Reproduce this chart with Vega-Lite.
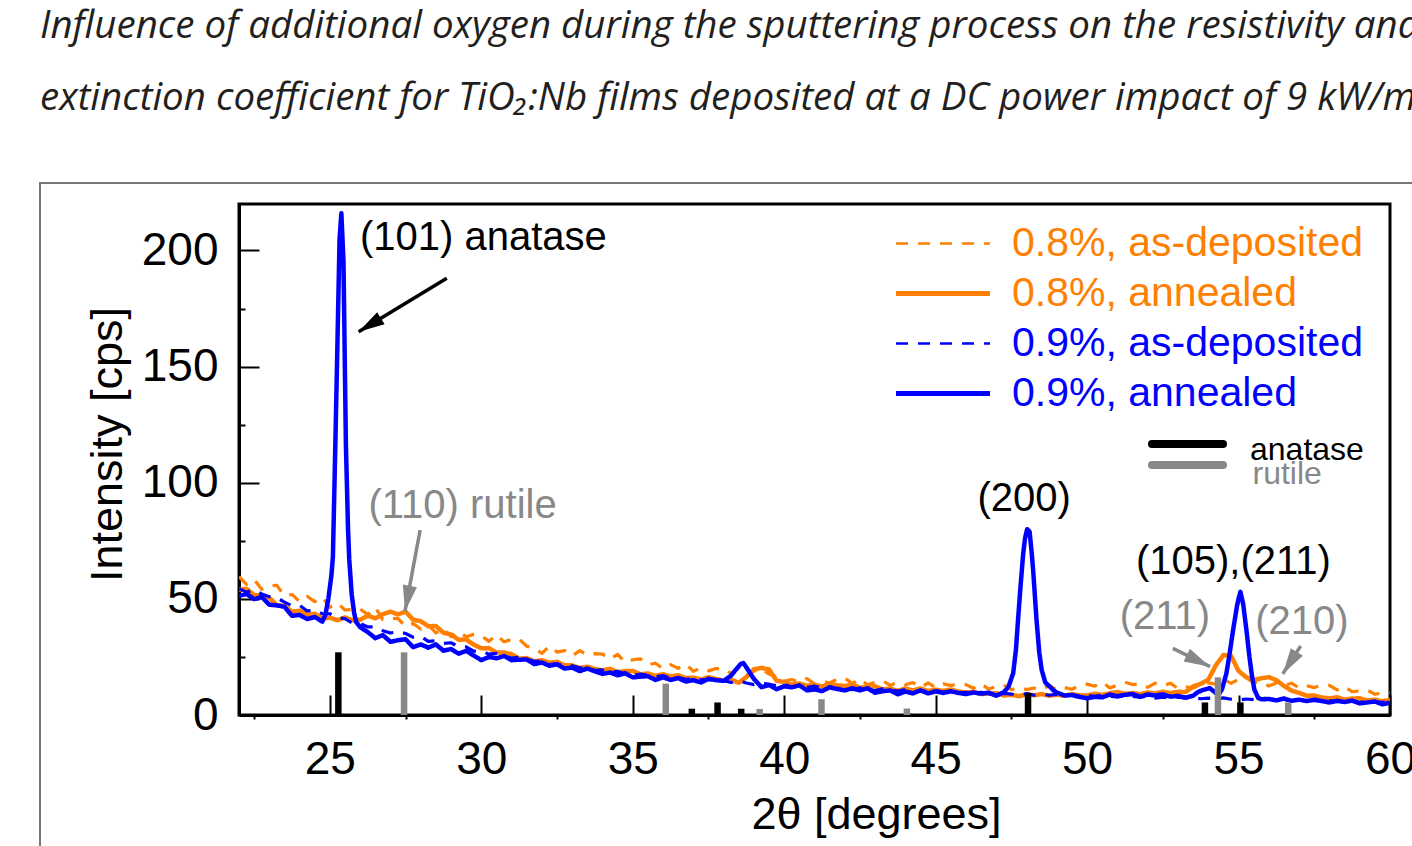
{
  "$schema": "https://vega.github.io/schema/vega-lite/v6.json",
  "width": 1151,
  "height": 511,
  "autosize": {"type": "none"},
  "padding": {"left": 239, "top": 204, "right": 22, "bottom": 131},
  "background": "white",
  "title": {
    "text": [
      "Influence of additional oxygen during the sputtering process on the resistivity and",
      "extinction coefficient for TiO₂:Nb films deposited at a DC power impact of 9 kW/m²"
    ],
    "anchor": "start",
    "frame": "group",
    "dx": -199,
    "offset": 64,
    "font": "Open Sans",
    "fontSize": 38.5,
    "fontStyle": "italic",
    "fontWeight": "normal",
    "color": "#231f20",
    "lineHeight": 72
  },
  "config": {
    "font": "Liberation Sans",
    "view": {"stroke": "#000000", "strokeWidth": 3},
    "axis": {
      "grid": false,
      "domainColor": "#000000",
      "domainWidth": 3,
      "tickColor": "#000000",
      "tickWidth": 2,
      "labelColor": "#000000",
      "titleColor": "#000000",
      "labelFont": "Liberation Sans",
      "titleFont": "Liberation Sans",
      "labelFontSize": 46,
      "titleFontSize": 45,
      "titleFontWeight": "normal",
      "labelFlush": false,
      "labelOverlap": false,
      "labelBound": false
    }
  },
  "resolve": {"scale": {"stroke": "independent"}},
  "datasets": {
    "arrows": [
      {"name": "a101", "phase": "anatase", "t": 28.86, "cps": 188.0, "t2": 25.95, "cps2": 165.0},
      {"name": "r110", "phase": "rutile", "t": 27.98, "cps": 79.6, "t2": 27.48, "cps2": 44.6},
      {"name": "r211", "phase": "rutile", "t": 52.83, "cps": 28.7, "t2": 54.06, "cps2": 20.8},
      {"name": "r210", "phase": "rutile", "t": 57.05, "cps": 29.7, "t2": 56.46, "cps2": 17.7}
    ],
    "refs": [
      {"phase": "anatase", "t": 25.28, "cps": 27},
      {"phase": "anatase", "t": 36.95, "cps": 2.7},
      {"phase": "anatase", "t": 37.8, "cps": 5.4},
      {"phase": "anatase", "t": 38.58, "cps": 2.7},
      {"phase": "anatase", "t": 48.05, "cps": 9.5},
      {"phase": "anatase", "t": 53.89, "cps": 5.4},
      {"phase": "anatase", "t": 55.06, "cps": 5.4},
      {"phase": "rutile", "t": 27.45, "cps": 27},
      {"phase": "rutile", "t": 36.09, "cps": 13.5},
      {"phase": "rutile", "t": 39.19, "cps": 2.6},
      {"phase": "rutile", "t": 41.23, "cps": 6.8},
      {"phase": "rutile", "t": 44.05, "cps": 2.8},
      {"phase": "rutile", "t": 54.32, "cps": 16.2},
      {"phase": "rutile", "t": 56.64, "cps": 5.4}
    ]
  },
  "layer": [
    {
      "data": {"values": [{"part": "figure border"}]},
      "mark": {"type": "rect", "fill": "transparent", "stroke": "#777777", "strokeWidth": 2, "clip": false},
      "encoding": {
        "x": {"datum": 15.43, "type": "quantitative"},
        "x2": {"datum": 63},
        "y": {"datum": 229.0, "type": "quantitative"},
        "y2": {"datum": -70}
      }
    },
    {
      "data": {
        "values": [
          {"t": 22, "od": 59.6, "oa": 54.0, "bd": 54.4, "ba": 51.3},
          {"t": 22.25, "od": 56.2, "oa": 54.3, "bd": 52.9, "ba": 52.1},
          {"t": 22.5, "od": 58.3, "oa": 51.6, "bd": 53.8, "ba": 49.9},
          {"t": 22.75, "od": 54.1, "oa": 51.4, "bd": 52.1, "ba": 50.8},
          {"t": 23, "od": 55.7, "oa": 50.5, "bd": 50.9, "ba": 47.5},
          {"t": 23.25, "od": 55.8, "oa": 47.3, "bd": 50.5, "ba": 47.2},
          {"t": 23.5, "od": 51.3, "oa": 47.0, "bd": 48.6, "ba": 46.6},
          {"t": 23.75, "od": 51.9, "oa": 44.5, "bd": 47.0, "ba": 42.7},
          {"t": 24, "od": 48.8, "oa": 44.9, "bd": 47.2, "ba": 43.1},
          {"t": 24.25, "od": 51.1, "oa": 43.2, "bd": 44.8, "ba": 41.3},
          {"t": 24.5, "od": 48.8, "oa": 43.6, "bd": 45.1, "ba": 42.2},
          {"t": 24.75, "od": 50.8, "oa": 41.6, "bd": 43.6, "ba": 40.2},
          {"t": 25, "od": 46.4, "oa": 41.9, "bd": 43.6, "ba": 55},
          {"t": 25.25, "od": 48.2, "oa": 40.8, "bd": 41.9, "ba": 160},
          {"t": 25.5, "od": 45.2, "oa": 42.0, "bd": 41.5, "ba": 145},
          {"t": 25.75, "od": 45.4, "oa": 40.8, "bd": 39.5, "ba": 49},
          {"t": 26, "od": 45.6, "oa": 41.0, "bd": 39.4, "ba": 37.8},
          {"t": 26.25, "od": 43.2, "oa": 42.8, "bd": 37.9, "ba": 35.7},
          {"t": 26.5, "od": 46.3, "oa": 41.6, "bd": 38.0, "ba": 33.1},
          {"t": 26.75, "od": 41.1, "oa": 43.4, "bd": 36.3, "ba": 34.4},
          {"t": 27, "od": 41.7, "oa": 44.5, "bd": 35.3, "ba": 31.5},
          {"t": 27.25, "od": 41.5, "oa": 43.3, "bd": 35.9, "ba": 32.2},
          {"t": 27.5, "od": 38.1, "oa": 44.5, "bd": 35.1, "ba": 32.6},
          {"t": 27.75, "od": 39.4, "oa": 41.0, "bd": 33.5, "ba": 29.2},
          {"t": 28, "od": 37.0, "oa": 40.4, "bd": 33.9, "ba": 30.4},
          {"t": 28.25, "od": 38.8, "oa": 38.2, "bd": 31.7, "ba": 29.0},
          {"t": 28.5, "od": 35.3, "oa": 38.3, "bd": 32.0, "ba": 30.4},
          {"t": 28.75, "od": 37.3, "oa": 35.4, "bd": 30.8, "ba": 27.7},
          {"t": 29, "od": 33.7, "oa": 34.7, "bd": 31.1, "ba": 28.4},
          {"t": 29.25, "od": 35.9, "oa": 32.4, "bd": 29.4, "ba": 26.4},
          {"t": 29.5, "od": 33.7, "oa": 32.5, "bd": 29.3, "ba": 27.6},
          {"t": 29.75, "od": 34.7, "oa": 30.3, "bd": 27.5, "ba": 25.6},
          {"t": 30, "od": 34.2, "oa": 28.7, "bd": 27.6, "ba": 23.6},
          {"t": 30.25, "od": 31.7, "oa": 28.8, "bd": 26.2, "ba": 25.0},
          {"t": 30.5, "od": 34.6, "oa": 26.9, "bd": 26.5, "ba": 24.4},
          {"t": 30.75, "od": 31.5, "oa": 26.9, "bd": 25.4, "ba": 25.4},
          {"t": 31, "od": 32.5, "oa": 26.2, "bd": 24.5, "ba": 23.6},
          {"t": 31.25, "od": 32.7, "oa": 24.3, "bd": 24.9, "ba": 23.8},
          {"t": 31.5, "od": 29.6, "oa": 24.5, "bd": 24.1, "ba": 23.9},
          {"t": 31.75, "od": 28.8, "oa": 23.1, "bd": 23.1, "ba": 21.9},
          {"t": 32, "od": 26.5, "oa": 23.6, "bd": 23.3, "ba": 22.6},
          {"t": 32.25, "od": 29.7, "oa": 22.5, "bd": 21.8, "ba": 21.2},
          {"t": 32.5, "od": 27.1, "oa": 22.9, "bd": 22.0, "ba": 21.8},
          {"t": 32.75, "od": 27.7, "oa": 21.4, "bd": 21.1, "ba": 20.0},
          {"t": 33, "od": 25.4, "oa": 21.4, "bd": 21.2, "ba": 20.4},
          {"t": 33.25, "od": 27.7, "oa": 20.2, "bd": 20.3, "ba": 18.9},
          {"t": 33.5, "od": 25.8, "oa": 20.8, "bd": 20.3, "ba": 20.0},
          {"t": 33.75, "od": 26.4, "oa": 19.8, "bd": 19.2, "ba": 18.8},
          {"t": 34, "od": 26.2, "oa": 19.2, "bd": 19.4, "ba": 17.7},
          {"t": 34.25, "od": 24.0, "oa": 19.9, "bd": 18.4, "ba": 18.3},
          {"t": 34.5, "od": 26.1, "oa": 18.4, "bd": 18.8, "ba": 17.1},
          {"t": 34.75, "od": 22.7, "oa": 18.9, "bd": 17.8, "ba": 18.0},
          {"t": 35, "od": 23.8, "oa": 19.0, "bd": 17.0, "ba": 16.2},
          {"t": 35.25, "od": 24.2, "oa": 17.5, "bd": 17.6, "ba": 16.5},
          {"t": 35.5, "od": 21.6, "oa": 17.9, "bd": 17.1, "ba": 16.7},
          {"t": 35.75, "od": 22.3, "oa": 16.8, "bd": 16.4, "ba": 15.1},
          {"t": 36, "od": 19.9, "oa": 17.6, "bd": 17.0, "ba": 16.2},
          {"t": 36.25, "od": 21.7, "oa": 16.6, "bd": 15.7, "ba": 15.1},
          {"t": 36.5, "od": 20.1, "oa": 17.1, "bd": 16.1, "ba": 15.9},
          {"t": 36.75, "od": 21.9, "oa": 15.9, "bd": 15.4, "ba": 14.4},
          {"t": 37, "od": 18.8, "oa": 16.1, "bd": 15.8, "ba": 15.0},
          {"t": 37.25, "od": 20.3, "oa": 15.3, "bd": 15.1, "ba": 14.0},
          {"t": 37.5, "od": 19.0, "oa": 16.3, "bd": 15.3, "ba": 15.6},
          {"t": 37.75, "od": 20.0, "oa": 15.5, "bd": 14.4, "ba": 15.0},
          {"t": 38, "od": 19.9, "oa": 14.8, "bd": 14.8, "ba": 14.7},
          {"t": 38.25, "od": 17.9, "oa": 15.2, "bd": 14.0, "ba": 17.0},
          {"t": 38.5, "od": 20.1, "oa": 13.9, "bd": 14.7, "ba": 21.0},
          {"t": 38.75, "od": 17.1, "oa": 16.3, "bd": 13.8, "ba": 20.5},
          {"t": 39, "od": 18.8, "oa": 19.7, "bd": 13.1, "ba": 15.5},
          {"t": 39.25, "od": 20.0, "oa": 20.3, "bd": 13.8, "ba": 12.0},
          {"t": 39.5, "od": 17.6, "oa": 19.6, "bd": 13.2, "ba": 12.9},
          {"t": 39.75, "od": 16.3, "oa": 14.8, "bd": 12.6, "ba": 11.1},
          {"t": 40, "od": 14.6, "oa": 14.2, "bd": 13.2, "ba": 12.4},
          {"t": 40.25, "od": 15.3, "oa": 13.1, "bd": 12.0, "ba": 11.9},
          {"t": 40.5, "od": 14.2, "oa": 13.6, "bd": 12.5, "ba": 12.8},
          {"t": 40.75, "od": 15.7, "oa": 12.6, "bd": 11.9, "ba": 10.6},
          {"t": 41, "od": 13.4, "oa": 13.0, "bd": 12.4, "ba": 11.0},
          {"t": 41.25, "od": 14.5, "oa": 12.3, "bd": 11.8, "ba": 10.3},
          {"t": 41.5, "od": 13.8, "oa": 13.4, "bd": 12.1, "ba": 11.9},
          {"t": 41.75, "od": 15.4, "oa": 12.8, "bd": 11.3, "ba": 11.2},
          {"t": 42, "od": 15.8, "oa": 12.5, "bd": 11.8, "ba": 10.6},
          {"t": 42.25, "od": 13.6, "oa": 13.2, "bd": 10.9, "ba": 11.5},
          {"t": 42.5, "od": 15.6, "oa": 11.7, "bd": 11.7, "ba": 10.6},
          {"t": 42.75, "od": 13.0, "oa": 12.3, "bd": 11.0, "ba": 11.5},
          {"t": 43, "od": 14.0, "oa": 12.4, "bd": 10.5, "ba": 9.6},
          {"t": 43.25, "od": 14.7, "oa": 11.0, "bd": 11.3, "ba": 10.2},
          {"t": 43.5, "od": 12.8, "oa": 11.4, "bd": 10.9, "ba": 10.6},
          {"t": 43.75, "od": 14.0, "oa": 10.4, "bd": 10.3, "ba": 8.9},
          {"t": 44, "od": 13.0, "oa": 11.4, "bd": 11.0, "ba": 10.1},
          {"t": 44.25, "od": 14.0, "oa": 10.6, "bd": 9.9, "ba": 9.3},
          {"t": 44.5, "od": 11.8, "oa": 11.4, "bd": 10.5, "ba": 10.6},
          {"t": 44.75, "od": 13.8, "oa": 10.4, "bd": 10.0, "ba": 9.3},
          {"t": 45, "od": 11.8, "oa": 10.9, "bd": 10.5, "ba": 10.2},
          {"t": 45.25, "od": 13.4, "oa": 10.4, "bd": 10.0, "ba": 9.5},
          {"t": 45.5, "od": 12.7, "oa": 11.0, "bd": 10.0, "ba": 10.2},
          {"t": 45.75, "od": 13.4, "oa": 10.1, "bd": 9.6, "ba": 9.5},
          {"t": 46, "od": 13.1, "oa": 9.7, "bd": 9.8, "ba": 9.0},
          {"t": 46.25, "od": 11.5, "oa": 10.0, "bd": 9.2, "ba": 9.7},
          {"t": 46.5, "od": 13.5, "oa": 9.0, "bd": 9.8, "ba": 9.2},
          {"t": 46.75, "od": 11.1, "oa": 9.3, "bd": 9.2, "ba": 9.6},
          {"t": 47, "od": 12.4, "oa": 9.4, "bd": 8.9, "ba": 8.3},
          {"t": 47.25, "od": 12.9, "oa": 8.4, "bd": 9.3, "ba": 9.8},
          {"t": 47.5, "od": 10.9, "oa": 8.7, "bd": 9.0, "ba": 15.8},
          {"t": 47.75, "od": 11.8, "oa": 8.1, "bd": 8.8, "ba": 46.3},
          {"t": 48, "od": 11.0, "oa": 8.9, "bd": 9.2, "ba": 78.9},
          {"t": 48.25, "od": 11.6, "oa": 8.5, "bd": 8.5, "ba": 56.3},
          {"t": 48.5, "od": 10.8, "oa": 9.0, "bd": 8.9, "ba": 19.4},
          {"t": 48.75, "od": 12.8, "oa": 8.3, "bd": 8.5, "ba": 12.4},
          {"t": 49, "od": 10.8, "oa": 8.7, "bd": 8.9, "ba": 9.7},
          {"t": 49.25, "od": 11.8, "oa": 8.3, "bd": 8.5, "ba": 8.4},
          {"t": 49.5, "od": 11.1, "oa": 9.0, "bd": 8.6, "ba": 8.6},
          {"t": 49.75, "od": 12.7, "oa": 8.5, "bd": 8.2, "ba": 7.8},
          {"t": 50, "od": 13.3, "oa": 8.4, "bd": 8.5, "ba": 7.2},
          {"t": 50.25, "od": 12.4, "oa": 9.2, "bd": 8.0, "ba": 7.8},
          {"t": 50.5, "od": 14.2, "oa": 8.6, "bd": 8.6, "ba": 7.6},
          {"t": 50.75, "od": 11.6, "oa": 9.4, "bd": 8.1, "ba": 8.8},
          {"t": 51, "od": 12.9, "oa": 9.9, "bd": 7.8, "ba": 8.1},
          {"t": 51.25, "od": 14.1, "oa": 9.1, "bd": 8.2, "ba": 8.7},
          {"t": 51.5, "od": 13.1, "oa": 9.5, "bd": 8.0, "ba": 9.0},
          {"t": 51.75, "od": 13.5, "oa": 8.9, "bd": 7.7, "ba": 7.9},
          {"t": 52, "od": 11.9, "oa": 9.7, "bd": 8.0, "ba": 8.8},
          {"t": 52.25, "od": 13.7, "oa": 9.3, "bd": 7.3, "ba": 8.4},
          {"t": 52.5, "od": 12.6, "oa": 10.0, "bd": 7.7, "ba": 8.9},
          {"t": 52.75, "od": 13.7, "oa": 9.4, "bd": 7.3, "ba": 7.9},
          {"t": 53, "od": 11.4, "oa": 10.0, "bd": 7.7, "ba": 8.2},
          {"t": 53.25, "od": 12.2, "oa": 9.9, "bd": 7.3, "ba": 7.5},
          {"t": 53.5, "od": 11.6, "oa": 12.3, "bd": 7.4, "ba": 8.3},
          {"t": 53.75, "od": 12.9, "oa": 13.4, "bd": 7.0, "ba": 10.4},
          {"t": 54, "od": 13.8, "oa": 15.2, "bd": 7.3, "ba": 11.4},
          {"t": 54.25, "od": 13.3, "oa": 21.4, "bd": 6.8, "ba": 9.5},
          {"t": 54.5, "od": 15.6, "oa": 25.8, "bd": 7.4, "ba": 13.3},
          {"t": 54.75, "od": 13.6, "oa": 25.5, "bd": 6.8, "ba": 30.4},
          {"t": 55, "od": 15.4, "oa": 19.0, "bd": 6.4, "ba": 50},
          {"t": 55.25, "od": 16.1, "oa": 16.3, "bd": 6.9, "ba": 37.6},
          {"t": 55.5, "od": 13.9, "oa": 15.0, "bd": 6.6, "ba": 12.6},
          {"t": 55.75, "od": 14.2, "oa": 15.8, "bd": 6.4, "ba": 6.8},
          {"t": 56, "od": 12.5, "oa": 16.3, "bd": 6.8, "ba": 6.9},
          {"t": 56.25, "od": 13.8, "oa": 15.0, "bd": 6.1, "ba": 6.3},
          {"t": 56.5, "od": 12.6, "oa": 12.5, "bd": 6.5, "ba": 7.1},
          {"t": 56.75, "od": 13.7, "oa": 10.5, "bd": 6.2, "ba": 6.1},
          {"t": 57, "od": 11.6, "oa": 9.5, "bd": 6.6, "ba": 6.6},
          {"t": 57.25, "od": 12.6, "oa": 8.3, "bd": 6.2, "ba": 6.0},
          {"t": 57.5, "od": 11.8, "oa": 8.4, "bd": 6.3, "ba": 6.6},
          {"t": 57.75, "od": 12.9, "oa": 7.5, "bd": 5.9, "ba": 6.0},
          {"t": 58, "od": 12.8, "oa": 7.2, "bd": 6.2, "ba": 5.4},
          {"t": 58.25, "od": 10.8, "oa": 7.6, "bd": 5.7, "ba": 6.1},
          {"t": 58.5, "od": 12.2, "oa": 6.6, "bd": 6.3, "ba": 5.6},
          {"t": 58.75, "od": 10.0, "oa": 7.1, "bd": 5.8, "ba": 6.2},
          {"t": 59, "od": 10.4, "oa": 7.2, "bd": 5.5, "ba": 5.0},
          {"t": 59.25, "od": 10.7, "oa": 6.3, "bd": 6.0, "ba": 5.4},
          {"t": 59.5, "od": 9.0, "oa": 6.6, "bd": 5.7, "ba": 5.8},
          {"t": 59.75, "od": 9.4, "oa": 5.9, "bd": 5.5, "ba": 4.6},
          {"t": 60, "od": 9.5, "oa": 6.5, "bd": 5.9, "ba": 5.3},
          {"t": 24.85, "ba": 43},
          {"t": 24.95, "ba": 50},
          {"t": 25.05, "ba": 60},
          {"t": 25.1, "ba": 68},
          {"t": 25.18, "ba": 116},
          {"t": 25.32, "ba": 205},
          {"t": 25.38, "ba": 216},
          {"t": 25.45, "ba": 195},
          {"t": 25.53, "ba": 116},
          {"t": 25.6, "ba": 80},
          {"t": 25.64, "ba": 67},
          {"t": 25.72, "ba": 52},
          {"t": 25.8, "ba": 44},
          {"t": 25.87, "ba": 40},
          {"t": 38.4, "ba": 19.5},
          {"t": 38.55, "ba": 21.8},
          {"t": 38.65, "ba": 22.4},
          {"t": 38.8, "ba": 19.5},
          {"t": 47.4, "ba": 12},
          {"t": 47.56, "ba": 18},
          {"t": 47.65, "ba": 28},
          {"t": 47.72, "ba": 41},
          {"t": 47.8, "ba": 55},
          {"t": 47.89, "ba": 69.5},
          {"t": 47.95, "ba": 76},
          {"t": 48.02, "ba": 80},
          {"t": 48.1, "ba": 79},
          {"t": 48.17, "ba": 70},
          {"t": 48.22, "ba": 62},
          {"t": 48.33, "ba": 41},
          {"t": 48.42, "ba": 27},
          {"t": 48.62, "ba": 14},
          {"t": 48.77, "ba": 12.2},
          {"t": 48.9, "ba": 10.5},
          {"t": 53.65, "ba": 9.8},
          {"t": 53.83, "ba": 10.8},
          {"t": 54.05, "ba": 11.6},
          {"t": 54.2, "ba": 10},
          {"t": 54.33, "ba": 8.6},
          {"t": 54.45, "ba": 11},
          {"t": 54.6, "ba": 18},
          {"t": 54.7, "ba": 26},
          {"t": 54.82, "ba": 36.6},
          {"t": 54.95, "ba": 47},
          {"t": 55.06, "ba": 53},
          {"t": 55.15, "ba": 48},
          {"t": 55.26, "ba": 36.6},
          {"t": 55.35, "ba": 26},
          {"t": 55.43, "ba": 18},
          {"t": 55.52, "ba": 11},
          {"t": 55.65, "ba": 7.3}
        ]
      },
      "transform": [
        {"fold": ["od", "oa", "bd", "ba"], "as": ["series", "cps"]},
        {"filter": {"field": "cps", "valid": true}}
      ],
      "mark": {"type": "line", "strokeJoin": "round", "invalid": "filter", "clip": true},
      "encoding": {
        "x": {
          "field": "t",
          "type": "quantitative",
          "scale": {"domain": [22, 60], "nice": false, "zero": false},
          "axis": {
            "title": "2θ [degrees]",
            "values": [22.5, 25, 27.5, 30, 32.5, 35, 37.5, 40, 42.5, 45, 47.5, 50, 52.5, 55, 57.5, 60],
            "tickSize": {"condition": {"test": "datum.value % 5 === 0", "value": -20}, "value": 4},
            "labelExpr": "datum.value % 5 === 0 ? datum.label : ''",
            "labelPadding": 42,
            "titleX": 637,
            "titleY": 77,
            "titleBaseline": "top",
            "titleAlign": "center"
          }
        },
        "y": {
          "field": "cps",
          "type": "quantitative",
          "scale": {"domain": [0, 220], "nice": false, "zero": false},
          "axis": {
            "title": "Intensity [cps]",
            "values": [0, 25, 50, 75, 100, 125, 150, 175, 200],
            "tickSize": {"condition": {"test": "datum.value % 50 === 0", "value": -20}, "value": -6},
            "labelExpr": "datum.value % 50 === 0 ? datum.label : ''",
            "labelPadding": 41,
            "titleX": -109,
            "titleY": 240,
            "titleAngle": -90,
            "titleBaseline": "bottom",
            "titleAlign": "center"
          }
        },
        "color": {
          "field": "series",
          "type": "nominal",
          "scale": {"domain": ["od", "oa", "bd", "ba"], "range": ["#ff8000", "#ff8000", "#0000ff", "#0000ff"]},
          "legend": {
            "orient": "none",
            "legendX": 683.5,
            "legendY": 19,
            "title": null,
            "padding": 0,
            "labelFont": "Liberation Sans",
            "labelFontSize": 41,
            "labelLimit": 800,
            "labelExpr": "datum.value === 'od' ? '0.8%, as-deposited' : datum.value === 'oa' ? '0.8%, annealed' : datum.value === 'bd' ? '0.9%, as-deposited' : '0.9%, annealed'",
            "symbolType": "M-5,0H5",
            "symbolSize": 353,
            "labelOffset": 48.5,
            "rowPadding": 8,
            "encode": {
              "labels": {"update": {"fill": {"signal": "datum.value === 'od' || datum.value === 'oa' ? '#ff8000' : '#0000ff'"}}},
              "symbols": {"update": {"strokeWidth": {"signal": "datum.value === 'od' || datum.value === 'bd' ? 2.5 : 5"}}}
            }
          }
        },
        "strokeDash": {
          "field": "series",
          "type": "nominal",
          "scale": {"domain": ["od", "oa", "bd", "ba"], "range": [[12, 10], [1, 0], [12, 10], [1, 0]]}
        },
        "strokeWidth": {"condition": {"test": "datum.series === 'od' || datum.series === 'bd'", "value": 3.2}, "value": 4.5}
      }
    },
    {
      "data": {"name": "refs"},
      "transform": [{"filter": "datum.phase === 'anatase'"}],
      "mark": {"type": "rule", "strokeWidth": 6.5, "strokeCap": "butt"},
      "encoding": {
        "x": {"field": "t", "type": "quantitative"},
        "y": {"field": "cps", "type": "quantitative"},
        "y2": {"datum": 0},
        "stroke": {
          "field": "phase",
          "type": "nominal",
          "scale": {"domain": ["anatase"], "range": ["#000000"]},
          "legend": {
            "orient": "none",
            "legendX": 932.5,
            "legendY": 224,
            "title": null,
            "padding": 0,
            "labelFont": "Liberation Sans",
            "labelFontSize": 32,
            "symbolType": "M-5,0H5",
            "symbolSize": 202,
            "symbolStrokeWidth": 8,
            "labelOffset": 46.5,
            "encode": {
              "labels": {"update": {"fill": {"value": "#000000"}, "dy": {"value": 6}}},
              "symbols": {"update": {"strokeCap": {"value": "round"}}}
            }
          }
        }
      }
    },
    {
      "data": {"name": "refs"},
      "transform": [{"filter": "datum.phase === 'rutile'"}],
      "mark": {"type": "rule", "strokeWidth": 6.5, "strokeCap": "butt"},
      "encoding": {
        "x": {"field": "t", "type": "quantitative"},
        "y": {"field": "cps", "type": "quantitative"},
        "y2": {"datum": 0},
        "stroke": {
          "field": "phase",
          "type": "nominal",
          "scale": {"domain": ["rutile"], "range": ["#888888"]},
          "legend": {
            "orient": "none",
            "legendX": 932.5,
            "legendY": 245,
            "title": null,
            "padding": 0,
            "labelFont": "Liberation Sans",
            "labelFontSize": 32,
            "symbolType": "M-5,0H5",
            "symbolSize": 202,
            "symbolStrokeWidth": 8,
            "labelOffset": 49,
            "encode": {
              "labels": {"update": {"fill": {"value": "#888888"}, "dy": {"value": 9}}},
              "symbols": {"update": {"strokeCap": {"value": "round"}}}
            }
          }
        }
      }
    },
    {
      "data": {"name": "arrows"},
      "mark": {"type": "rule", "strokeWidth": 3.5, "strokeCap": "butt"},
      "encoding": {
        "x": {"field": "t", "type": "quantitative"},
        "y": {"field": "cps", "type": "quantitative"},
        "x2": {"field": "t2"},
        "y2": {"field": "cps2"},
        "color": {"condition": {"test": "datum.phase === 'rutile'", "value": "#888888"}, "value": "#000000"}
      }
    },
    {
      "data": {"name": "arrows"},
      "transform": [{"filter": "datum.name === 'a101'"}],
      "mark": {"type": "point", "shape": "M0,0L-0.55,2L0.55,2Z", "size": 676, "angle": 238.7, "filled": true, "opacity": 1, "fill": "#000000", "strokeWidth": 0},
      "encoding": {
        "x": {"field": "t2", "type": "quantitative"},
        "y": {"field": "cps2", "type": "quantitative"}
      }
    },
    {
      "data": {"name": "arrows"},
      "transform": [{"filter": "datum.name === 'r110'"}],
      "mark": {"type": "point", "shape": "M0,0L-0.55,2L0.55,2Z", "size": 676, "angle": 190.9, "filled": true, "opacity": 1, "fill": "#888888", "strokeWidth": 0},
      "encoding": {
        "x": {"field": "t2", "type": "quantitative"},
        "y": {"field": "cps2", "type": "quantitative"}
      }
    },
    {
      "data": {"name": "arrows"},
      "transform": [{"filter": "datum.name === 'r211'"}],
      "mark": {"type": "point", "shape": "M0,0L-0.55,2L0.55,2Z", "size": 676, "angle": 116.2, "filled": true, "opacity": 1, "fill": "#888888", "strokeWidth": 0},
      "encoding": {
        "x": {"field": "t2", "type": "quantitative"},
        "y": {"field": "cps2", "type": "quantitative"}
      }
    },
    {
      "data": {"name": "arrows"},
      "transform": [{"filter": "datum.name === 'r210'"}],
      "mark": {"type": "point", "shape": "M0,0L-0.55,2L0.55,2Z", "size": 676, "angle": 212.7, "filled": true, "opacity": 1, "fill": "#888888", "strokeWidth": 0},
      "encoding": {
        "x": {"field": "t2", "type": "quantitative"},
        "y": {"field": "cps2", "type": "quantitative"}
      }
    },
    {
      "data": {
        "values": [
          {"label": "(101) anatase", "phase": "anatase", "t": 30.07, "cps": 205.4},
          {"label": "(110) rutile", "phase": "rutile", "t": 29.38, "cps": 90.0},
          {"label": "(200)", "phase": "anatase", "t": 47.92, "cps": 93.0},
          {"label": "(105),(211)", "phase": "anatase", "t": 54.83, "cps": 66.0},
          {"label": "(211)", "phase": "rutile", "t": 52.57, "cps": 42.4},
          {"label": "(210)", "phase": "rutile", "t": 57.09, "cps": 40.2}
        ]
      },
      "mark": {"type": "text", "font": "Liberation Sans", "fontSize": 40, "align": "center", "baseline": "middle"},
      "encoding": {
        "x": {"field": "t", "type": "quantitative"},
        "y": {"field": "cps", "type": "quantitative"},
        "text": {"field": "label"},
        "color": {"condition": {"test": "datum.phase === 'rutile'", "value": "#888888"}, "value": "#000000"}
      }
    }
  ]
}
